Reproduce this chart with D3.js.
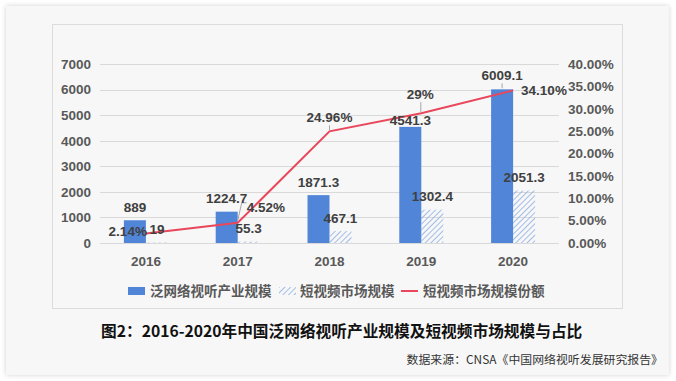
<!DOCTYPE html>
<html lang="zh">
<head>
<meta charset="UTF-8" />
<title>泛网络视听产业规模及短视频市场规模</title>
<script src="https://d3js.org/d3.v7.min.js"></script>
<style>
  body { margin: 0; background: #fff; }
  .lbl { font-family: "Liberation Sans", Arial, sans-serif; font-weight: bold; font-size: 13.5px; fill: #404040; }
  .axis-lbl { font-family: "Liberation Sans", Arial, sans-serif; font-weight: bold; font-size: 13.5px; fill: #595959; }
  .cjk { font-family: "Noto Sans CJK SC", sans-serif; }
</style>
</head>
<body>
<div id="chart"></div>
<script>
// data
const years = ['2016', '2017', '2018', '2019', '2020'];
const industry = [889, 1224.7, 1871.3, 4541.3, 6009.1];   // 泛网络视听产业规模
const shortVideo = [19, 55.3, 467.1, 1302.4, 2051.3];     // 短视频市场规模
const share = [0.0214, 0.0452, 0.2496, 0.29, 0.341];      // 短视频市场规模份额
const shareLabels = ['2.14%', '4.52%', '24.96%', '29%', '34.10%'];
const leftTicks = [0, 1000, 2000, 3000, 4000, 5000, 6000, 7000];
const rightTicks = [0, 0.05, 0.1, 0.15, 0.2, 0.25, 0.3, 0.35, 0.4];

const W = 676, H = 381;
const svg = d3.select('#chart').append('svg')
  .attr('width', W).attr('height', H);

const defs = svg.append('defs');
const shadow = defs.append('filter').attr('id', 'shadow')
  .attr('x', '-5%').attr('y', '-5%').attr('width', '110%').attr('height', '110%');
shadow.append('feDropShadow').attr('dx', 0).attr('dy', 0)
  .attr('stdDeviation', 2.5).attr('flood-color', '#000').attr('flood-opacity', 0.18);

const hatch = defs.append('pattern').attr('id', 'hatch')
  .attr('patternUnits', 'userSpaceOnUse').attr('width', 4).attr('height', 4)
  .attr('patternTransform', 'rotate(45)');
hatch.append('line').attr('x1', 0).attr('y1', 0).attr('x2', 0).attr('y2', 4)
  .attr('stroke', '#8cade2').attr('stroke-width', 1.6);

// card + inner frame
svg.append('rect').attr('x', 6).attr('y', 6).attr('width', 663).attr('height', 369)
  .attr('fill', '#f7f7f7').attr('filter', 'url(#shadow)');
svg.append('rect').attr('x', 52.5).attr('y', 24.5).attr('width', 570).attr('height', 284)
  .attr('fill', 'none').attr('stroke', '#dcdcdc');

// scales
const x = d3.scaleBand().domain(years).range([100, 559]);
const y = d3.scaleLinear().domain([0, 7000]).range([243, 64]);
const y2 = d3.scaleLinear().domain([0, 0.4]).range([243, 64]);
const barW = 22;
const cx = (d) => x(d) + x.bandwidth() / 2;

// grid
svg.append('g').selectAll('line').data(leftTicks).join('line')
  .attr('x1', 100).attr('x2', 559)
  .attr('y1', (d) => Math.round(y(d)) + 0.5).attr('y2', (d) => Math.round(y(d)) + 0.5)
  .attr('stroke', '#d9d9d9');

// axes
const axL = svg.append('g').attr('transform', 'translate(100,0)')
  .call(d3.axisLeft(y).tickValues(leftTicks).tickSize(0).tickPadding(9).tickFormat(d3.format('d')));
const axR = svg.append('g').attr('transform', 'translate(559,0)')
  .call(d3.axisRight(y2).tickValues(rightTicks).tickSize(0).tickPadding(9).tickFormat(d3.format('.2%')));
const axB = svg.append('g').attr('transform', 'translate(0,243)')
  .call(d3.axisBottom(x).tickSize(0).tickPadding(13));
[axL, axR, axB].forEach((g) => {
  g.select('.domain').remove();
  g.selectAll('text').attr('class', 'axis-lbl').attr('fill', null).attr('font-size', null).attr('font-family', null);
});

// bars
svg.append('g').selectAll('rect').data(years).join('rect')
  .attr('x', (d) => cx(d) - barW).attr('width', barW)
  .attr('y', (d, i) => y(industry[i])).attr('height', (d, i) => y(0) - y(industry[i]))
  .attr('fill', '#5085d8');
svg.append('g').selectAll('rect').data(years).join('rect')
  .attr('x', (d) => cx(d)).attr('width', barW)
  .attr('y', (d, i) => y(shortVideo[i])).attr('height', (d, i) => y(0) - y(shortVideo[i]))
  .attr('fill', 'url(#hatch)');

// line
const line = d3.line().x((d) => cx(d)).y((d, i) => y2(share[i]));
svg.append('path').datum(years).attr('d', line)
  .attr('fill', 'none').attr('stroke', '#e8475c').attr('stroke-width', 2);

// leader lines
const leaders = svg.append('g').attr('stroke', '#a6a6a6').attr('fill', 'none').attr('stroke-width', 1);
leaders.append('path').attr('d', `M${cx('2017') + 9},${y2(share[1]) - 20} H${cx('2017') + 4} L${cx('2017')},${y2(share[1]) - 2}`);
leaders.append('path').attr('d', `M${cx('2018')},${y2(share[2]) - 6} V${y2(share[2]) - 1}`);
leaders.append('path').attr('d', `M${cx('2019') - 0.5},${y2(share[3]) - 11} V${y2(share[3]) - 1}`);
leaders.append('path').attr('d', `M${cx('2020') - 11},${y(industry[4]) - 6} V${y(industry[4]) - 1}`);

// labels
const barDy = [-13, -13, -13, -7, -14];
svg.append('g').selectAll('text').data(years).join('text').attr('class', 'lbl')
  .attr('x', (d) => cx(d) - barW / 2).attr('y', (d, i) => y(industry[i]) + barDy[i])
  .attr('dy', '0.35em').attr('text-anchor', 'middle').text((d, i) => industry[i]);
svg.append('g').selectAll('text').data(years).join('text').attr('class', 'lbl')
  .attr('x', (d) => cx(d) + barW / 2).attr('y', (d, i) => y(shortVideo[i]) - 13)
  .attr('dy', '0.35em').attr('text-anchor', 'middle').text((d, i) => shortVideo[i]);

const shareLayout = [
  { dx: 1, dy: -2, anchor: 'end' },
  { dx: 9, dy: -15, anchor: 'start' },
  { dx: 0, dy: -14, anchor: 'middle' },
  { dx: -1, dy: -19, anchor: 'middle' },
  { dx: 8, dy: 0, anchor: 'start' },
];
svg.append('g').selectAll('text').data(years).join('text').attr('class', 'lbl')
  .attr('x', (d, i) => cx(d) + shareLayout[i].dx)
  .attr('y', (d, i) => y2(share[i]) + shareLayout[i].dy)
  .attr('dy', '0.35em').attr('text-anchor', (d, i) => shareLayout[i].anchor)
  .text((d, i) => shareLabels[i]);

// legend
const lg = svg.append('g').attr('class', 'cjk');
lg.append('rect').attr('x', 128).attr('y', 287).attr('width', 17).attr('height', 8).attr('fill', '#5085d8');
lg.append('rect').attr('x', 279).attr('y', 287).attr('width', 17).attr('height', 8).attr('fill', 'url(#hatch)');
lg.append('line').attr('x1', 401).attr('x2', 418).attr('y1', 291).attr('y2', 291)
  .attr('stroke', '#e8475c').attr('stroke-width', 2);
[['泛网络视听产业规模', 150], ['短视频市场规模', 300], ['短视频市场规模份额', 423]].forEach(([t, lx]) => {
  lg.append('text').attr('x', lx).attr('y', 291).attr('dy', '0.35em')
    .attr('font-size', '13.5px').attr('font-weight', 'bold').attr('fill', '#595959').text(t);
});

// title + source
svg.append('text').attr('class', 'cjk').attr('x', 101).attr('y', 332).attr('dy', '0.35em')
  .attr('font-size', '15.7px').attr('font-weight', 'bold').attr('fill', '#111')
  .text('图2：2016-2020年中国泛网络视听产业规模及短视频市场规模与占比');
svg.append('text').attr('class', 'cjk').attr('x', 663).attr('y', 360).attr('dy', '0.35em')
  .attr('text-anchor', 'end').attr('font-size', '11.9px').attr('fill', '#333')
  .text('数据来源：CNSA《中国网络视听发展研究报告》');
</script>
</body>
</html>
